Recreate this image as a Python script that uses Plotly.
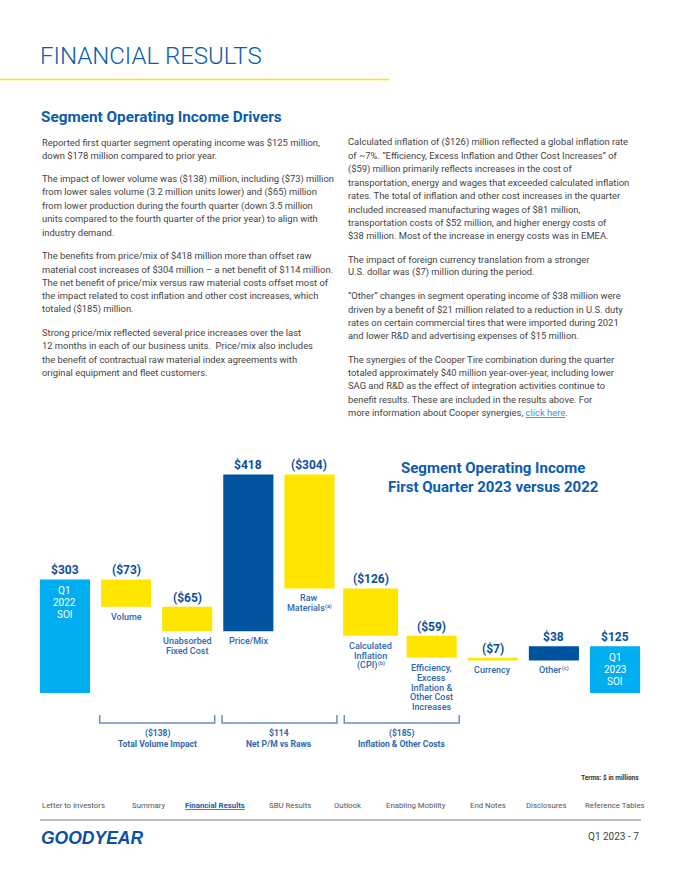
import plotly.graph_objects as go

W, H = 680, 880

# ---------------- data ----------------
categories = ["Q1 2022 SOI", "Volume", "Unabsorbed Fixed Cost", "Price/Mix", "Raw Materials",
              "Calculated Inflation (CPI)", "Efficiency, Excess Inflation & Other Cost Increases",
              "Currency", "Other", "Q1 2023 SOI"]
values = [303, -73, -65, 418, -304, -126, -59, -7, 38, 125]
measures = ["absolute"] + ["relative"] * 8 + ["total"]
inside_labels = {0: ["Q1", "2022", "SOI"], 9: ["Q1", "2023", "SOI"]}
# (line text, footnote marker or None, approx text width in px for footnote placement)
below_labels = {
    1: [("Volume", None, 0)],
    2: [("Unabsorbed", None, 0), ("Fixed Cost", None, 0)],
    3: [("Price/Mix", None, 0)],
    4: [("Raw", None, 0), ("Materials", "(a)", 35)],
    5: [("Calculated", None, 0), ("Inflation", None, 0), ("(CPI)", "(b)", 17.5)],
    6: [("Efficiency,", None, 0), ("Excess", None, 0), ("Inflation &", None, 0),
        ("Other Cost", None, 0), ("Increases", None, 0)],
    7: [("Currency", None, 0)],
    8: [("Other", "(c)", 19)],
}
groups = [(1, 2, "Total Volume Impact"), (3, 4, "Net P/M vs Raws"), (5, 6, "Inflation & Other Costs")]

left_paragraphs = [
    ["Reported first quarter segment operating income was $125 million,",
     "down $178 million compared to prior year."],
    ["The impact of lower volume was ($138) million, including ($73) million",
     "from lower sales volume (3.2 million units lower) and ($65) million",
     "from lower production during the fourth quarter (down 3.5 million",
     "units compared to the fourth quarter of the prior year) to align with",
     "industry demand."],
    ["The benefits from price/mix of $418 million more than offset raw",
     "material cost increases of $304 million \u2013 a net benefit of $114 million.",
     "The net benefit of price/mix versus raw material costs offset most of",
     "the impact related to cost inflation and other cost increases, which",
     "totaled ($185) million."],
    ["Strong price/mix reflected several price increases over the last",
     "12 months in each of our business units.  Price/mix also includes",
     "the benefit of contractual raw material index agreements with",
     "original equipment and fleet customers."],
]
right_paragraphs = [
    ["Calculated inflation of ($126) million reflected a global inflation rate",
     "of ~7%. \u201cEfficiency, Excess Inflation and Other Cost Increases\u201d of",
     "($59) million primarily reflects increases in the cost of",
     "transportation, energy and wages that exceeded calculated inflation",
     "rates. The total of inflation and other cost increases in the quarter",
     "included increased manufacturing wages of $81 million,",
     "transportation costs of $52 million, and higher energy costs of",
     "$38 million. Most of the increase in energy costs was in EMEA."],
    ["The impact of foreign currency translation from a stronger",
     "U.S. dollar was ($7) million during the period."],
    ["\u201cOther\u201d changes in segment operating income of $38 million were",
     "driven by a benefit of $21 million related to a reduction in U.S. duty",
     "rates on certain commercial tires that were imported during 2021",
     "and lower R&D and advertising expenses of $15 million."],
    ["The synergies of the Cooper Tire combination during the quarter",
     "totaled approximately $40 million year-over-year, including lower",
     "SAG and R&D as the effect of integration activities continue to",
     "benefit results. These are included in the results above. For",
     "more information about Cooper synergies, "
     "<span style='color:#3b8fd6'><u>click here</u></span>."],
]
nav_items = ["Letter to Investors", "Summary", "Financial Results", "SBU Results", "Outlook",
             "Enabling Mobility", "End Notes", "Disclosures", "Reference Tables"]
nav_x = [40, 130, 183, 267, 332, 384, 468, 524, 583]

# ---------------- styles ----------------
FONT = "Roboto"
BLUE_TITLE = "#0c5cab"
LABEL_BLUE = "#0d4f9c"
CAT_BLUE = "#2e68ad"
BODY = "#444444"
LIGHT_BLUE = "#00aeef"
YELLOW = "#ffe600"
DARK_BLUE = "#00549f"


def px(p):
    return p / W


def py(p):
    return 1 - p / H


def money(v):
    return f"${v}" if v >= 0 else f"(${-v})"


# cumulative bar extents
lows, highs = [], []
run = 0
for v, m in zip(values, measures):
    if m == "absolute":
        run = v
        lows.append(0); highs.append(v)
    elif m == "total":
        lows.append(0); highs.append(run)
    else:
        new = run + v
        lows.append(min(run, new)); highs.append(max(run, new))
        run = new

widths = [0.82] * len(categories)
widths[5] = 0.9

fig = go.Figure()
fig.add_trace(go.Waterfall(
    x=categories, y=values, measure=measures, width=widths,
    increasing=dict(marker=dict(color=DARK_BLUE, line=dict(width=0))),
    decreasing=dict(marker=dict(color=YELLOW, line=dict(width=0))),
    totals=dict(marker=dict(color=LIGHT_BLUE, line=dict(width=0))),
    connector=dict(visible=False),
    hoverinfo="skip", showlegend=False,
))

ann = []
shapes = []

# header
ann.append(dict(text="FINANCIAL RESULTS", x=px(38), y=py(56), xref="paper", yref="paper",
                xanchor="left", yanchor="middle", showarrow=False,
                font=dict(family=FONT, size=24, color=BLUE_TITLE, weight=300)))
shapes.append(dict(type="line", xref="paper", yref="paper", x0=0, x1=px(389), y0=py(79.5), y1=py(79.5),
                   line=dict(color=YELLOW, width=1.5)))
ann.append(dict(text="<b>Segment Operating Income Drivers</b>", x=px(39), y=py(117), xref="paper",
                yref="paper", xanchor="left", yanchor="middle", showarrow=False,
                font=dict(family=FONT, size=15.3, color=BLUE_TITLE)))

# body text
STEP = 13.35
GAP = 23.3


def add_column(pars, x0, y0):
    y = y0
    for par in pars:
        for i, line in enumerate(par):
            ann.append(dict(text=line, x=px(x0), y=py(y), xref="paper", yref="paper",
                            xanchor="left", yanchor="middle", showarrow=False,
                            font=dict(family=FONT, size=9.4, color=BODY)))
            if i < len(par) - 1:
                y += STEP
        y += GAP


add_column(left_paragraphs, 40, 142.3)
add_column(right_paragraphs, 346, 142.3)

# chart title
for i, t in enumerate(["Segment Operating Income", "First Quarter 2023 versus 2022"]):
    ann.append(dict(text=f"<b>{t}</b>", x=px(493), y=py(468.3 + i * 18.4), xref="paper", yref="paper",
                    xanchor="center", yanchor="middle", showarrow=False,
                    font=dict(family=FONT, size=15, color=BLUE_TITLE)))

# value labels
for i, c in enumerate(categories):
    ann.append(dict(text=f"<b>{money(values[i])}</b>", x=c, y=highs[i], xref="x", yref="y",
                    yshift=9, xanchor="center", yanchor="middle", showarrow=False,
                    font=dict(family=FONT, size=12, color=LABEL_BLUE)))

# inside labels
for i, lines in inside_labels.items():
    for k, t in enumerate(lines):
        ann.append(dict(text=t, x=categories[i], y=highs[i], xref="x", yref="y",
                        yshift=-(11.5 + k * 12), xanchor="center", yanchor="middle", showarrow=False,
                        font=dict(family=FONT, size=10, color="white")))

# below labels
SUP_W = 7.0
for i, lines in below_labels.items():
    for k, (t, sup, tw) in enumerate(lines):
        ys = -(10 + k * 9.9)
        if sup is None:
            ann.append(dict(text=t, x=categories[i], y=lows[i], xref="x", yref="y",
                            yshift=ys, xanchor="center", yanchor="middle", showarrow=False,
                            font=dict(family=FONT, size=9, color=CAT_BLUE, weight=500)))
        else:
            ann.append(dict(text=t, x=categories[i], y=lows[i], xref="x", yref="y",
                            yshift=ys, xshift=-SUP_W / 2, xanchor="center", yanchor="middle",
                            showarrow=False,
                            font=dict(family=FONT, size=9, color=CAT_BLUE, weight=500)))
            ann.append(dict(text=sup, x=categories[i], y=lows[i], xref="x", yref="y",
                            yshift=ys + 1.5, xshift=tw / 2 - SUP_W / 2, xanchor="left",
                            yanchor="middle", showarrow=False,
                            font=dict(family=FONT, size=5.5, color=CAT_BLUE, weight=500)))

# brackets
for a, b, label in groups:
    total = sum(values[a:b + 1])
    xa, xb = a - 0.43, b + 0.45
    shapes.append(dict(type="path", xref="x", yref="paper",
                       path=f"M {xa},{py(715)} L {xa},{py(723)} L {xb},{py(723)} L {xb},{py(715)}",
                       line=dict(color="#6a8fc4", width=1.5)))
    xc = (xa + xb) / 2
    ann.append(dict(text=f"<b>{money(total)}</b>", x=xc, y=py(733), xref="x", yref="paper",
                    xanchor="center", yanchor="middle", showarrow=False,
                    font=dict(family=FONT, size=8.5, color=CAT_BLUE)))
    ann.append(dict(text=f"<b>{label}</b>", x=xc, y=py(743.5), xref="x", yref="paper",
                    xanchor="center", yanchor="middle", showarrow=False,
                    font=dict(family=FONT, size=8.5, color=CAT_BLUE)))

# footer
ann.append(dict(text="<b>Terms: $ in millions</b>", x=px(641), y=py(778), xref="paper", yref="paper",
                xanchor="right", yanchor="middle", showarrow=False,
                font=dict(family=FONT, size=6.5, color="#333333")))
for t, x in zip(nav_items, nav_x):
    if t == "Financial Results":
        txt = f"<b><u>{t}</u></b>"
        col = "#1d5ca8"
    else:
        txt = t
        col = "#555555"
    ann.append(dict(text=txt, x=px(x), y=py(805), xref="paper", yref="paper",
                    xanchor="left", yanchor="middle", showarrow=False,
                    font=dict(family=FONT, size=7.8, color=col)))
shapes.append(dict(type="line", xref="paper", yref="paper", x0=px(40), x1=px(641), y0=py(820), y1=py(820),
                   line=dict(color="#7a7a7a", width=1.2)))
ann.append(dict(text="<b><i>GOODYEAR</i></b>", x=px(39), y=py(838), xref="paper", yref="paper",
                xanchor="left", yanchor="middle", showarrow=False,
                font=dict(family="Liberation Sans", size=17.5, color="#0b4ea2")))
ann.append(dict(text="Q1 2023 - 7", x=px(641), y=py(836), xref="paper", yref="paper",
                xanchor="right", yanchor="middle", showarrow=False,
                font=dict(family=FONT, size=10, color="#444444")))

SCALE = 0.375  # px per $ million
fig.update_layout(
    width=W, height=H,
    margin=dict(l=0, r=0, t=0, b=0),
    paper_bgcolor="white", plot_bgcolor="white",
    xaxis=dict(domain=[px(34.4), px(645.6)], range=[-0.5, 9.5], showticklabels=False,
               showgrid=False, zeroline=False, showline=False, ticks="", fixedrange=True,
               type="category", categoryorder="array", categoryarray=categories),
    yaxis=dict(domain=[py(693), py(440)], range=[0, (693 - 440) / SCALE], showticklabels=False,
               showgrid=False, zeroline=False, showline=False, ticks="", fixedrange=True),
    annotations=ann, shapes=shapes,
    font=dict(family=FONT),
)

fig.write_html("out.html", config={"displayModeBar": False},
               post_script="document.body.style.margin='0px';document.body.style.padding='0px';")
